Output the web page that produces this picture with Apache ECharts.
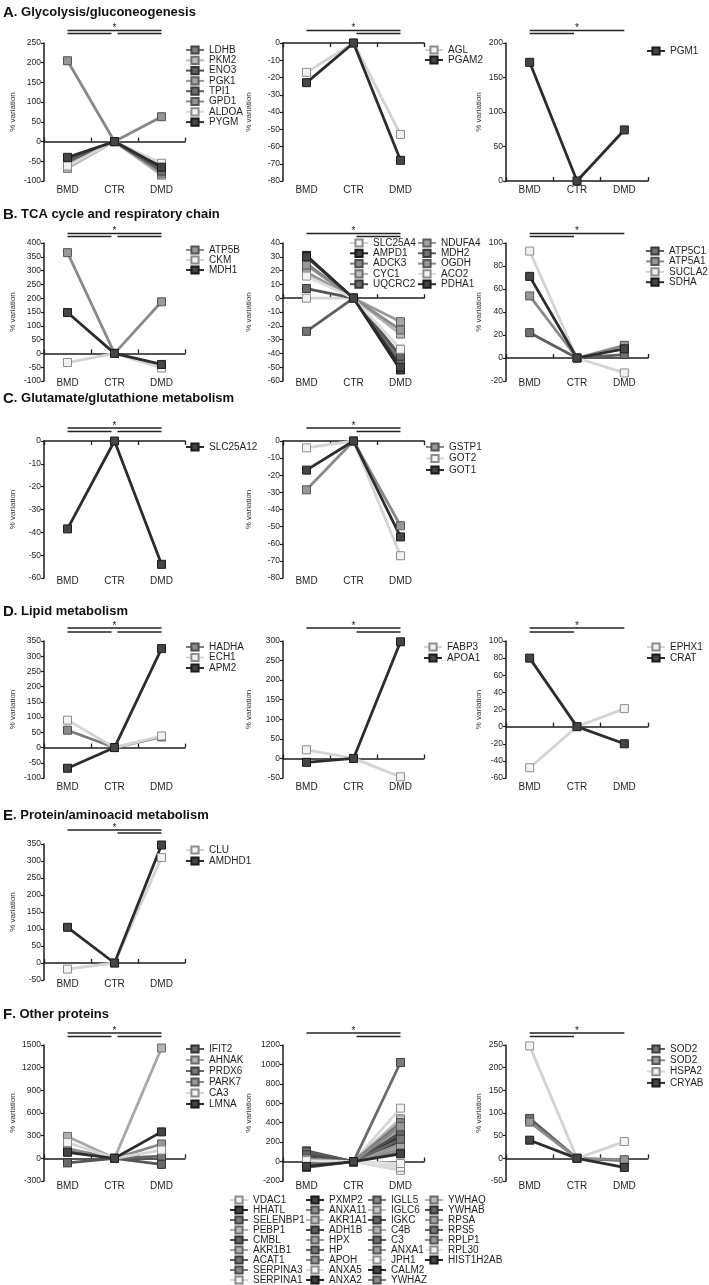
<!DOCTYPE html>
<html><head><meta charset="utf-8">
<script src="https://cdn.jsdelivr.net/npm/echarts@6/dist/echarts.min.js"></script>
<style>html,body{margin:0;padding:0;background:#fff}#c{width:709px;height:1285px}</style>
</head><body><div id="c"></div><script>
const FONT = '"Liberation Sans", Arial, Helvetica, sans-serif';
const categories = ['BMD', 'CTR', 'DMD'];

// ---- Row titles
const rowLetters = ['A', 'B', 'C', 'D', 'E', 'F'];
const rowTitles = ['Glycolysis/gluconeogenesis', 'TCA cycle and respiratory chain', 'Glutamate/glutathione metabolism', 'Lipid metabolism', 'Protein/aminoacid metabolism', 'Other proteins'];

// ---- A. Glycolysis
const A1_names = ['LDHB', 'PKM2', 'ENO3', 'PGK1', 'TPI1', 'GPD1', 'ALDOA', 'PYGM'];
const A1_BMD = [-55, -68, -45, -60, -50, 205, -62, -40];
const A1_CTR = [0, 0, 0, 0, 0, 0, 0, 0];
const A1_DMD = [-72, -85, -62, -80, -75, 63, -55, -65];
const A1_axis = [-100, 250, 50];
const A1_colors = ['#6f6f6f', '#b5b5b5', '#4f4f4f', '#9a9a9a', '#5d5d5d', '#888888', '#d6d6d6', '#2c2c2c'];

const A2_names = ['AGL', 'PGAM2'];
const A2_BMD = [-17, -23];
const A2_CTR = [0, 0];
const A2_DMD = [-53, -68];
const A2_axis = [-80, 0, 10];
const A2_colors = ['#d2d2d2', '#2c2c2c'];

const A3_names = ['PGM1'];
const A3_BMD = [172];
const A3_CTR = [0];
const A3_DMD = [74];
const A3_axis = [0, 200, 50];
const A3_colors = ['#2c2c2c'];

// ---- B. TCA cycle
const B1_names = ['ATP5B', 'CKM', 'MDH1'];
const B1_BMD = [365, -33, 148];
const B1_CTR = [0, 0, 0];
const B1_DMD = [187, -53, -40];
const B1_axis = [-100, 400, 50];
const B1_colors = ['#8a8a8a', '#d2d2d2', '#2c2c2c'];

const B2_names = ['SLC25A4', 'AMPD1', 'ADCK3', 'CYC1', 'UQCRC2', 'NDUFA4', 'MDH2', 'OGDH', 'ACO2', 'PDHA1'];
const B2_BMD = [0, 31, 25, 17, 7, 19, -24, 24, 16, 30];
const B2_CTR = [0, 0, 0, 0, 0, 0, 0, 0, 0, 0];
const B2_DMD = [-37, -52, -45, -26, -42, -17, -48, -23, -37, -50];
const B2_axis = [-60, 40, 10];
const B2_colors = ['#d4d4d4', '#262626', '#7a7a7a', '#b3b3b3', '#555555', '#999999', '#5f5f5f', '#8a8a8a', '#dddddd', '#2c2c2c'];

const B3_names = ['ATP5C1', 'ATP5A1', 'SUCLA2', 'SDHA'];
const B3_BMD = [22, 54, 93, 71];
const B3_CTR = [0, 0, 0, 0];
const B3_DMD = [3, 11, -13, 8];
const B3_axis = [-20, 100, 20];
const B3_colors = ['#5f5f5f', '#8a8a8a', '#d4d4d4', '#2c2c2c'];

// ---- C. Glutamate
const C1_names = ['SLC25A12'];
const C1_BMD = [-38.5];
const C1_CTR = [0];
const C1_DMD = [-54];
const C1_axis = [-60, 0, 10];
const C1_colors = ['#2c2c2c'];

const C2_names = ['GSTP1', 'GOT2', 'GOT1'];
const C2_BMD = [-28.5, -4, -17];
const C2_CTR = [0, 0, 0];
const C2_DMD = [-49.5, -67, -56];
const C2_axis = [-80, 0, 10];
const C2_colors = ['#8a8a8a', '#d4d4d4', '#2c2c2c'];

// ---- D. Lipid
const D1_names = ['HADHA', 'ECH1', 'APM2'];
const D1_BMD = [57, 90, -68];
const D1_CTR = [0, 0, 0];
const D1_DMD = [35, 38, 325];
const D1_axis = [-100, 350, 50];
const D1_colors = ['#7a7a7a', '#d4d4d4', '#2c2c2c'];

const D2_names = ['FABP3', 'APOA1'];
const D2_BMD = [22, -10];
const D2_CTR = [0, 0];
const D2_DMD = [-47, 298];
const D2_axis = [-50, 300, 50];
const D2_colors = ['#d4d4d4', '#2c2c2c'];

const D3_names = ['EPHX1', 'CRAT'];
const D3_BMD = [-48, 80];
const D3_CTR = [0, 0];
const D3_DMD = [21, -20];
const D3_axis = [-60, 100, 20];
const D3_colors = ['#d4d4d4', '#2c2c2c'];

// ---- E. Protein
const E1_names = ['CLU', 'AMDHD1'];
const E1_BMD = [-18, 105];
const E1_CTR = [0, 0];
const E1_DMD = [310, 347];
const E1_axis = [-50, 350, 50];
const E1_colors = ['#d4d4d4', '#2c2c2c'];

// ---- F. Other proteins
const F1_names = ['IFIT2', 'AHNAK', 'PRDX6', 'PARK7', 'CA3', 'LMNA'];
const F1_BMD = [-60, 290, 100, 130, 210, 80];
const F1_CTR = [0, 0, 0, 0, 0, 0];
const F1_DMD = [-80, 1460, 30, 190, 110, 350];
const F1_axis = [-300, 1500, 300];
const F1_colors = ['#555555', '#a8a8a8', '#666666', '#8a8a8a', '#d6d6d6', '#2c2c2c'];

const F2_names = ['VDAC1', 'HHATL', 'SELENBP1', 'PEBP1', 'CMBL', 'AKR1B1', 'ACAT1', 'SERPINA3', 'SERPINA1',
  'PXMP2', 'ANXA11', 'AKR1A1', 'ADH1B', 'HPX', 'HP', 'APOH', 'ANXA5', 'ANXA2',
  'IGLL5', 'IGLC6', 'IGKC', 'C4B', 'C3', 'ANXA1', 'JPH1', 'CALM2', 'YWHAZ',
  'YWHAQ', 'YWHAB', 'RPSA', 'RPS5', 'RPLP1', 'RPL30', 'HIST1H2AB'];
const F2_BMD = [20, -40, 50, 10, 90, 30, -60, 70, -20, 0, -30, 40, 110, 20, -50, 60, 0, 30, 80, -10, -20, 50, 100, 10, -30, 40, -40, 20, 70, 0, -10, 30, 10, -50];
const F2_CTR = [0, 0, 0, 0, 0, 0, 0, 0, 0, 0, 0, 0, 0, 0, 0, 0, 0, 0, 0, 0, 0, 0, 0, 0, 0, 0, 0, 0, 0, 0, 0, 0, 0, 0];
const F2_DMD = [550, 260, 1020, 420, 300, 380, 200, 330, -90, 280, 160, 440, 240, 130, 350, 180, -40, 220, 400, 100, 310, 150, 270, 120, -60, 250, 90, 340, 290, 170, 230, 360, -20, 80];
const F2_axis = [-200, 1200, 200];
const F2_colors = ['#d6d6d6', '#2c2c2c', '#6a6a6a', '#b0b0b0', '#505050', '#a0a0a0', '#606060', '#7a7a7a', '#d8d8d8',
  '#2a2a2a', '#808080', '#b8b8b8', '#4a4a4a', '#9a9a9a', '#666666', '#8a8a8a', '#dadada', '#262626',
  '#777777', '#bdbdbd', '#555555', '#a8a8a8', '#5e5e5e', '#8e8e8e', '#dcdcdc', '#2a2a2a', '#7e7e7e',
  '#b0b0b0', '#4e4e4e', '#999999', '#646464', '#888888', '#e0e0e0', '#2a2a2a'];

const F3_names = ['SOD2', 'SOD2 ', 'HSPA2', 'CRYAB'];
const F3_BMD = [88, 80, 248, 40];
const F3_CTR = [0, 0, 0, 0];
const F3_DMD = [-5, -3, 37, -20];
const F3_axis = [-50, 250, 50];
const F3_colors = ['#5f5f5f', '#8a8a8a', '#d4d4d4', '#2c2c2c'];

// ---- significance comparisons (first = upper bar)
const SIG_ALL = [['BMD', 'DMD'], ['BMD', 'CTR'], ['CTR', 'DMD']];
const SIG_CD = [['BMD', 'DMD'], ['CTR', 'DMD']];
const SIG_BC = [['BMD', 'DMD'], ['BMD', 'CTR']];

// ---- layout (positions only)
const cols = [{ left: 44, width: 141, nameGap: 27 }, { left: 283, width: 141, nameGap: 30 }, { left: 506, width: 142, nameGap: 23 }];
const rows = [
  { top: 43, height: 138, bar: [12.5, 9.5], title: 14, lab: 4 },
  { top: 243, height: 138, bar: [9.5, 6.5], title: 216, lab: -2.5 },
  { top: 441, height: 137, bar: [13, 9.5], title: 400, lab: -1.5 },
  { top: 641, height: 137, bar: [13, 9], title: 613, lab: 4 },
  { top: 844, height: 136, bar: [14, 11], title: 817, lab: -0.5 },
  { top: 1045, height: 136, bar: [12, 8.5], title: 1016, lab: 0.5 }
];

const panels = [
  { col: 0, row: 0, names: A1_names, bmd: A1_BMD, ctr: A1_CTR, dmd: A1_DMD, axis: A1_axis, colors: A1_colors, sig: SIG_ALL, legends: [{ from: 0, to: 8, left: 185, top: 45, gap: 0.3 }] },
  { col: 1, row: 0, names: A2_names, bmd: A2_BMD, ctr: A2_CTR, dmd: A2_DMD, axis: A2_axis, colors: A2_colors, sig: SIG_CD, legends: [{ from: 0, to: 2, left: 424, top: 45, gap: 0 }] },
  { col: 2, row: 0, names: A3_names, bmd: A3_BMD, ctr: A3_CTR, dmd: A3_DMD, axis: A3_axis, colors: A3_colors, sig: SIG_BC, legends: [{ from: 0, to: 1, left: 646, top: 46, gap: 0 }] },
  { col: 0, row: 1, names: B1_names, bmd: B1_BMD, ctr: B1_CTR, dmd: B1_DMD, axis: B1_axis, colors: B1_colors, sig: SIG_ALL, legends: [{ from: 0, to: 3, left: 185, top: 245, gap: 0 }] },
  { col: 1, row: 1, names: B2_names, bmd: B2_BMD, ctr: B2_CTR, dmd: B2_DMD, axis: B2_axis, colors: B2_colors, sig: SIG_CD, legends: [{ from: 0, to: 5, left: 349, top: 238, gap: 0.3 }, { from: 5, to: 10, left: 417, top: 238, gap: 0.3 }] },
  { col: 2, row: 1, names: B3_names, bmd: B3_BMD, ctr: B3_CTR, dmd: B3_DMD, axis: B3_axis, colors: B3_colors, sig: SIG_BC, legends: [{ from: 0, to: 4, left: 645, top: 246, gap: 0.4 }] },
  { col: 0, row: 2, names: C1_names, bmd: C1_BMD, ctr: C1_CTR, dmd: C1_DMD, axis: C1_axis, colors: C1_colors, sig: SIG_ALL, legends: [{ from: 0, to: 1, left: 185, top: 442, gap: 0 }] },
  { col: 1, row: 2, names: C2_names, bmd: C2_BMD, ctr: C2_CTR, dmd: C2_DMD, axis: C2_axis, colors: C2_colors, sig: SIG_CD, legends: [{ from: 0, to: 3, left: 425, top: 442, gap: 1.5 }] },
  { col: 0, row: 3, names: D1_names, bmd: D1_BMD, ctr: D1_CTR, dmd: D1_DMD, axis: D1_axis, colors: D1_colors, sig: SIG_ALL, legends: [{ from: 0, to: 3, left: 185, top: 642, gap: 0.5 }] },
  { col: 1, row: 3, names: D2_names, bmd: D2_BMD, ctr: D2_CTR, dmd: D2_DMD, axis: D2_axis, colors: D2_colors, sig: SIG_CD, legends: [{ from: 0, to: 2, left: 423, top: 642, gap: 1 }] },
  { col: 2, row: 3, names: D3_names, bmd: D3_BMD, ctr: D3_CTR, dmd: D3_DMD, axis: D3_axis, colors: D3_colors, sig: SIG_BC, legends: [{ from: 0, to: 2, left: 646, top: 642, gap: 1 }] },
  { col: 0, row: 4, names: E1_names, bmd: E1_BMD, ctr: E1_CTR, dmd: E1_DMD, axis: E1_axis, colors: E1_colors, sig: SIG_CD, legends: [{ from: 0, to: 2, left: 185, top: 845, gap: 1 }] },
  { col: 0, row: 5, names: F1_names, bmd: F1_BMD, ctr: F1_CTR, dmd: F1_DMD, axis: F1_axis, colors: F1_colors, sig: SIG_ALL, legends: [{ from: 0, to: 6, left: 185, top: 1044, gap: 1 }] },
  { col: 1, row: 5, names: F2_names, bmd: F2_BMD, ctr: F2_CTR, dmd: F2_DMD, axis: F2_axis, colors: F2_colors, sig: SIG_CD, legends: [
    { from: 0, to: 9, left: 229, top: 1195, gap: 0, lh: 9.6 }, { from: 9, to: 18, left: 305, top: 1195, gap: 0, lh: 9.6 },
    { from: 18, to: 27, left: 367, top: 1195, gap: 0, lh: 9.6 }, { from: 27, to: 34, left: 424, top: 1195, gap: 0, lh: 9.6 }] },
  { col: 2, row: 5, names: F3_names, bmd: F3_BMD, ctr: F3_CTR, dmd: F3_DMD, axis: F3_axis, colors: F3_colors, sig: SIG_BC, legends: [{ from: 0, to: 4, left: 646, top: 1044, gap: 1.3 }] }
];

function grayOf(c) { return parseInt(c.slice(1, 3), 16); }
function hex(v) { v = Math.max(0, Math.min(255, Math.round(v))); const h = v.toString(16).padStart(2, '0'); return '#' + h + h + h; }
function fillOf(c) { const v = grayOf(c); return v > 190 ? '#f2f2f2' : hex(v + (255 - v) * 0.12); }
function borderOf(c) { const v = grayOf(c); return v > 190 ? '#8c8c8c' : hex(v * 0.62); }

const grids = [], xAxes = [], yAxes = [], series = [], legends = [];
panels.forEach((p, gi) => {
  const c = cols[p.col], r = rows[p.row];
  const [mn, mx, step] = p.axis;
  grids.push({ left: c.left, top: r.top, width: c.width, height: r.height, containLabel: false, outerBoundsMode: 'none' });
  xAxes.push({
    type: 'category', gridIndex: gi, data: categories, boundaryGap: true, position: 'bottom',
    axisLine: { show: true, onZero: true, lineStyle: { color: '#1e1e1e', width: 1.5 } },
    axisTick: { show: true, inside: mx !== 0, length: 4, lineStyle: { color: '#1e1e1e', width: 1.3 } },
    axisLabel: { show: false }, splitLine: { show: false }
  });
  xAxes.push({
    type: 'category', gridIndex: gi, data: categories, boundaryGap: true, position: 'bottom',
    axisLine: { show: false, onZero: false }, axisTick: { show: false },
    axisLabel: { show: true, margin: r.lab, fontSize: 10, color: '#1e1e1e', fontFamily: FONT }, splitLine: { show: false }
  });
  yAxes.push({
    type: 'value', gridIndex: gi, min: mn, max: mx, interval: step,
    name: '% variation', nameLocation: 'middle', nameGap: c.nameGap,
    nameTextStyle: { fontSize: 8, color: '#333', fontFamily: FONT },
    axisLine: { show: true, onZero: false, lineStyle: { color: '#1e1e1e', width: 1.5 } },
    axisTick: { show: true, length: 3, lineStyle: { color: '#1e1e1e', width: 1.2 } },
    axisLabel: { fontSize: 8.5, color: '#1e1e1e', margin: 3, fontFamily: FONT, formatter: v => String(v) },
    splitLine: { show: false }
  });
  p.names.forEach((n, i) => {
    const col = p.colors[i];
    series.push({
      type: 'line', name: n, xAxisIndex: 2 * gi, yAxisIndex: gi,
      data: [p.bmd[i], p.ctr[i], p.dmd[i]],
      symbol: 'rect', symbolSize: 8, clip: false, silent: true,
      lineStyle: { color: col, width: 2.8 },
      itemStyle: { color: fillOf(col), borderColor: borderOf(col), borderWidth: 1 },
      emphasis: { disabled: true }, z: 2
    });
  });
  p.legends.forEach(l => {
    legends.push({
      data: p.names.slice(l.from, l.to), orient: 'vertical', left: l.left, top: l.top,
      itemGap: l.gap, itemWidth: 18, itemHeight: 9, padding: 0, selectedMode: false,
      textStyle: { fontSize: 10, color: '#1e1e1e', lineHeight: l.lh || 10, fontFamily: FONT }
    });
  });
});

const titles = rowLetters.map((L, i) => ({
  text: '{a|' + L + '}{b|. ' + rowTitles[i] + '}', left: 3, top: rows[i].title - 9, padding: 0,
  textStyle: { rich: {
    a: { fontSize: 15, fontWeight: 'bold', fontFamily: FONT, color: '#111' },
    b: { fontSize: 13, fontWeight: 'bold', fontFamily: FONT, color: '#111' } } }
}));

const chart = echarts.init(document.getElementById('c'), null, { renderer: 'canvas' });
chart.setOption({
  animation: false, backgroundColor: '#fff',
  title: titles, grid: grids, xAxis: xAxes, yAxis: yAxes, legend: legends, series: series
});

// significance bars
const g = [];
panels.forEach((p, gi) => {
  const r = rows[p.row];
  const yTop = r.top - r.bar[0], yLow = r.top - r.bar[1];
  const X = cat => chart.convertToPixel({ xAxisIndex: 2 * gi }, cat);
  p.sig.forEach(([a, b], k) => {
    let x1 = X(a), x2 = X(b);
    const y = k === 0 ? yTop : yLow;
    if (k > 0) { if (a === 'CTR') x1 += 3; if (b === 'CTR') x2 -= 3; }
    g.push({ type: 'line', silent: true, shape: { x1: x1, y1: y, x2: x2, y2: y }, style: { stroke: '#222', lineWidth: 1.3 } });
  });
  g.push({ type: 'text', silent: true, x: X('CTR'), y: yTop - 2, style: { text: '*', fill: '#222', font: '10px ' + FONT, align: 'center', verticalAlign: 'middle' } });
});
chart.setOption({ graphic: { elements: g } });
</script></body></html>
